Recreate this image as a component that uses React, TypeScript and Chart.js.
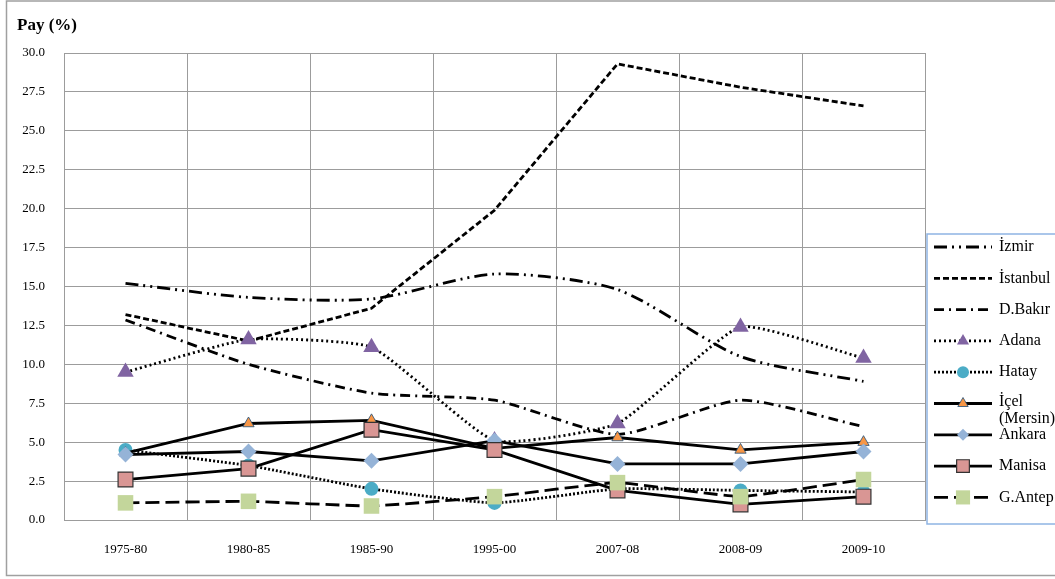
import { useEffect, useRef } from 'react';
import { Chart, registerables } from 'chart.js';
import { drawPoint } from 'chart.js/helpers';
Chart.register(...registerables);

const categories = ['1975-80', '1980-85', '1985-90', '1995-00', '2007-08', '2008-09', '2009-10'];
const seriesNames = ['İzmir', 'İstanbul', 'D.Bakır', 'Adana', 'Hatay', 'İçel (Mersin)', 'Ankara', 'Manisa', 'G.Antep'];
const izmir = [15.2, 14.3, 14.2, 15.8, 14.8, 10.5, 8.9];
const istanbul = [13.2, 11.5, 13.6, 19.9, 29.3, 27.8, 26.6];
const dbakir = [12.85, 10.0, 8.15, 7.7, 5.5, 7.7, 6.0];
const adana = [9.5, 11.6, 11.1, 5.1, 6.2, 12.4, 10.4];
const hatay = [4.5, 3.5, 2.0, 1.1, 2.0, 1.9, 1.8];
const icel = [4.3, 6.2, 6.4, 4.6, 5.3, 4.5, 5.0];
const ankara = [4.2, 4.4, 3.8, 5.1, 3.6, 3.6, 4.4];
const manisa = [2.6, 3.3, 5.8, 4.5, 1.9, 1.0, 1.5];
const gantep = [1.1, 1.2, 0.9, 1.5, 2.4, 1.5, 2.6];
const yAxisTitle = 'Pay (%)';

const SERIF = '"Liberation Serif", "Times New Roman", serif';

type Style = {
  dash: number[];
  tension: number;
  pointStyle: any;
  radius: number;
  legendRadius: number;
  fill: string;
  border: string;
  borderWidth: number;
};

const styles: Style[] = [
  { dash: [13, 5, 2, 5, 2, 5], tension: 0.25, pointStyle: false, radius: 0, legendRadius: 0, fill: '#000', border: '#000', borderWidth: 0 },
  { dash: [6, 3], tension: 0, pointStyle: false, radius: 0, legendRadius: 0, fill: '#000', border: '#000', borderWidth: 0 },
  { dash: [10, 5, 2, 5], tension: 0.2, pointStyle: false, radius: 0, legendRadius: 0, fill: '#000', border: '#000', borderWidth: 0 },
  { dash: [2, 3], tension: 0.15, pointStyle: 'triangle', radius: 9.5, legendRadius: 7, fill: '#8064A2', border: '#8064A2', borderWidth: 0 },
  { dash: [2, 2], tension: 0.15, pointStyle: 'circle', radius: 7, legendRadius: 6, fill: '#4BACC6', border: '#4BACC6', borderWidth: 0 },
  { dash: [], tension: 0, pointStyle: 'triangle', radius: 6.5, legendRadius: 6, fill: '#F79646', border: '#1F4E79', borderWidth: 0.8 },
  { dash: [], tension: 0, pointStyle: 'rectRot', radius: 8, legendRadius: 6, fill: '#95B3D7', border: '#95B3D7', borderWidth: 0 },
  { dash: [], tension: 0, pointStyle: 'rect', radius: 10.5, legendRadius: 9, fill: '#D99694', border: '#333', borderWidth: 1.2 },
  { dash: [14, 6], tension: 0.1, pointStyle: 'rect', radius: 11, legendRadius: 10, fill: '#C3D69B', border: '#C3D69B', borderWidth: 0 },
];

const seriesData = [izmir, istanbul, dbakir, adana, hatay, icel, ankara, manisa, gantep];

const decorPlugin = {
  id: 'decor',
  afterDraw(chart: any) {
    const ctx = chart.ctx as CanvasRenderingContext2D;
    ctx.save();
    ctx.strokeStyle = '#A0A0A0';
    ctx.lineWidth = 1.5;
    ctx.setLineDash([]);
    ctx.strokeRect(6.5, 1, 1060, 574.5);
    ctx.fillStyle = '#000';
    ctx.font = 'bold 17px ' + SERIF;
    ctx.textAlign = 'left';
    ctx.textBaseline = 'middle';
    ctx.fillText(yAxisTitle, 17, 26);
    ctx.strokeStyle = '#8EB4E3';
    ctx.lineWidth = 1.5;
    ctx.strokeRect(927, 234, 140, 290);
    const x0 = 934, x1 = 992, tx = 999;
    const step = 31.3;
    ctx.font = '16px ' + SERIF;
    styles.forEach((s, i) => {
      const y = 247 + i * step;
      ctx.strokeStyle = '#000';
      ctx.lineWidth = 2.8;
      ctx.lineCap = 'butt';
      ctx.setLineDash(s.dash);
      ctx.beginPath();
      ctx.moveTo(x0, y);
      ctx.lineTo(x1, y);
      ctx.stroke();
      ctx.setLineDash([]);
      if (s.pointStyle) {
        ctx.fillStyle = s.fill;
        ctx.strokeStyle = s.border;
        ctx.lineWidth = s.borderWidth;
        drawPoint(ctx, { pointStyle: s.pointStyle, radius: s.legendRadius, rotation: 0, borderWidth: s.borderWidth } as any, (x0 + x1) / 2, y);
      }
      ctx.fillStyle = '#000';
      const name = seriesNames[i];
      if (name === 'İçel (Mersin)') {
        ctx.fillText('İçel', tx, y - 2);
        ctx.fillText('(Mersin)', tx, y + 15);
      } else {
        ctx.fillText(name, tx, y);
      }
    });
    ctx.restore();
  },
};

export default function App() {
  const ref = useRef<HTMLCanvasElement | null>(null);
  useEffect(() => {
    if (!ref.current) return;
    const datasets = seriesData.map((d, i) => {
      const s = styles[i];
      return {
        label: seriesNames[i],
        data: d,
        borderColor: '#000',
        borderWidth: 2.8,
        borderDash: s.dash,
        tension: s.tension,
        fill: false,
        pointStyle: s.pointStyle,
        pointRadius: s.radius,
        pointBackgroundColor: s.fill,
        pointBorderColor: s.border,
        pointBorderWidth: s.borderWidth,
        order: -i,
      };
    });
    const chart = new Chart(ref.current, {
      type: 'line',
      data: { labels: categories, datasets: datasets as any },
      options: {
        animation: false,
        responsive: false,
        devicePixelRatio: 1,
        layout: { padding: { top: 53, right: 130, bottom: 0, left: 0 } },
        plugins: { legend: { display: false }, tooltip: { enabled: false }, title: { display: false } },
        scales: {
          x: {
            offset: true,
            grid: { color: '#9C9C9C', drawTicks: false, offset: true, lineWidth: 1 },
            border: { color: '#9C9C9C' },
            ticks: { color: '#000', padding: 22, font: { family: SERIF, size: 13 }, maxRotation: 0 },
            afterFit: (s: any) => { s.height = 59; },
          },
          y: {
            min: 0,
            max: 30,
            grid: { color: '#9C9C9C', drawTicks: false, lineWidth: 1 },
            border: { color: '#9C9C9C' },
            ticks: {
              stepSize: 2.5,
              color: '#000',
              padding: 19,
              font: { family: SERIF, size: 13 },
              callback: (v: any) => Number(v).toFixed(1),
            },
            afterFit: (s: any) => { s.width = 64; },
          },
        },
      },
      plugins: [decorPlugin],
    });
    return () => chart.destroy();
  }, []);
  return (
    <div style={{ position: 'absolute', left: 0, top: 0, width: 1055, height: 579, background: '#fff' }}>
      <canvas ref={ref} width={1055} height={579} style={{ display: 'block' }} />
    </div>
  );
}
